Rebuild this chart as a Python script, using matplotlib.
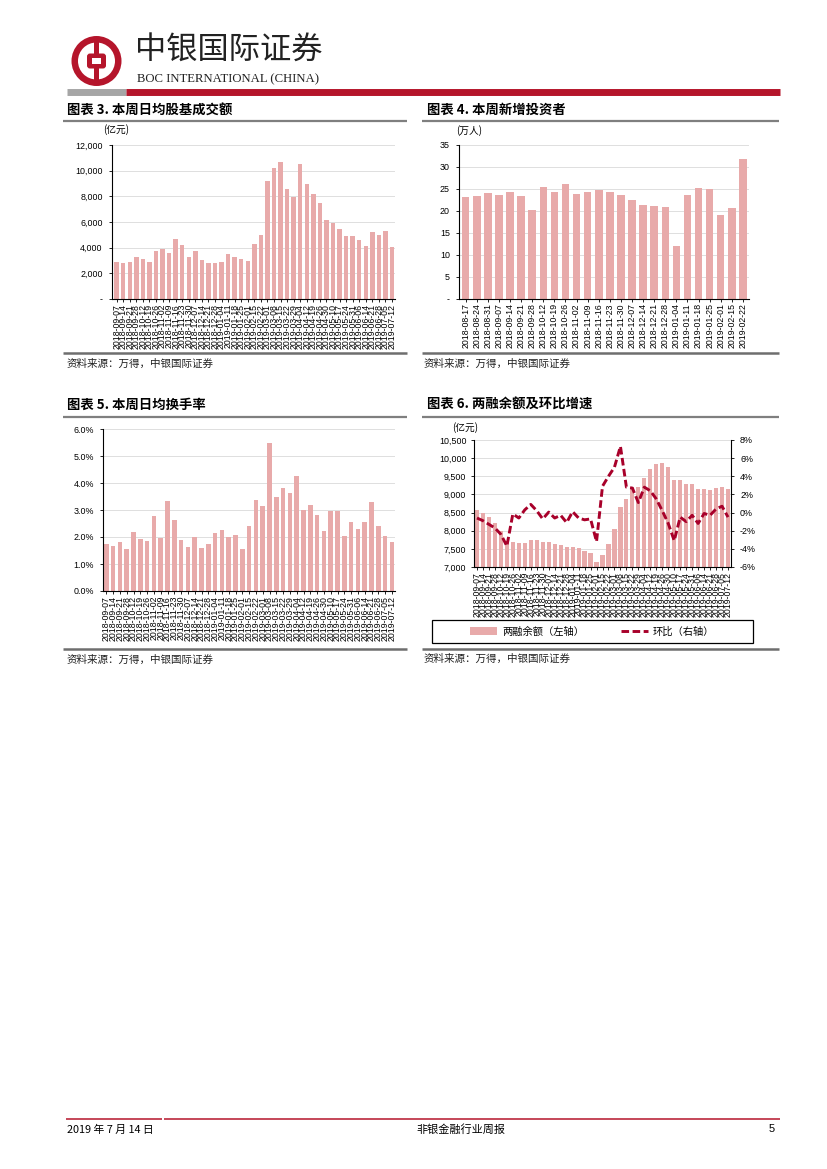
import matplotlib
matplotlib.use("Agg")
import matplotlib.pyplot as plt
import matplotlib.patches as mpatches
from matplotlib.lines import Line2D
from matplotlib.ticker import FuncFormatter, MultipleLocator

W, H = 827, 1169
CJK = ['Noto Sans CJK SC', 'DejaVu Sans']
NUM = ['Liberation Sans', 'DejaVu Sans']
plt.rcParams['font.family'] = CJK

BAR = '#E8AAAA'
LINE = '#A8002A'
RED = '#B5152B'

# ---------------- data ----------------
weeks43 = ['2018-09-07', '2018-09-14', '2018-09-21', '2018-09-28', '2018-10-12', '2018-10-19',
           '2018-10-26', '2018-11-02', '2018-11-09', '2018-11-16', '2018-11-23', '2018-11-30',
           '2018-12-07', '2018-12-14', '2018-12-21', '2018-12-28', '2019-01-04', '2019-01-11',
           '2019-01-18', '2019-01-25', '2019-02-01', '2019-02-15', '2019-02-22', '2019-03-01',
           '2019-03-08', '2019-03-15', '2019-03-22', '2019-03-29', '2019-04-04', '2019-04-12',
           '2019-04-19', '2019-04-26', '2019-04-30', '2019-05-10', '2019-05-17', '2019-05-24',
           '2019-05-31', '2019-06-06', '2019-06-14', '2019-06-21', '2019-06-28', '2019-07-05',
           '2019-07-12']

turnover = [2880, 2830, 2910, 3270, 3090, 2910, 3720, 3870, 3590, 4700, 4180, 3270, 3740, 3040,
            2780, 2830, 2910, 3530, 3270, 3090, 2960, 4300, 4960, 9190, 10200, 10680, 8540,
            7920, 10490, 8960, 8150, 7480, 6130, 5920, 5430, 4880, 4930, 4570, 4150, 5220,
            5010, 5320, 4050]

weeks26 = ['2018-08-17', '2018-08-24', '2018-08-31', '2018-09-07', '2018-09-14', '2018-09-21',
           '2018-09-28', '2018-10-12', '2018-10-19', '2018-10-26', '2018-11-02', '2018-11-09',
           '2018-11-16', '2018-11-23', '2018-11-30', '2018-12-07', '2018-12-14', '2018-12-21',
           '2018-12-28', '2019-01-04', '2019-01-11', '2019-01-18', '2019-01-25', '2019-02-01',
           '2019-02-15', '2019-02-22']
new_investors = [23.0, 23.2, 24.0, 23.6, 24.1, 23.3, 20.1, 25.3, 24.1, 26.0, 23.8, 24.1, 24.6,
                 24.1, 23.5, 22.3, 21.2, 21.0, 20.8, 11.9, 23.6, 25.2, 25.0, 18.9, 20.6, 31.6]

turnover_rate = [1.75, 1.67, 1.83, 1.55, 2.20, 1.93, 1.87, 2.78, 1.97, 3.35, 2.63, 1.90, 1.63,
                 2.00, 1.60, 1.75, 2.13, 2.27, 2.00, 2.07, 1.55, 2.40, 3.38, 3.15, 5.50, 3.47,
                 3.80, 3.63, 4.27, 3.00, 3.18, 2.83, 2.23, 2.95, 2.95, 2.02, 2.55, 2.30, 2.55,
                 3.28, 2.40, 2.05, 1.83]

margin_balance = [8560, 8500, 8390, 8220, 8000, 7720, 7700, 7660, 7670, 7750, 7750, 7700, 7700,
                  7640, 7620, 7560, 7560, 7520, 7450, 7390, 7150, 7330, 7630, 8060, 8640, 8870,
                  9210, 9210, 9460, 9700, 9840, 9860, 9745, 9410, 9395, 9275, 9275, 9150, 9150,
                  9130, 9165, 9210, 9150]
margin_growth = [-0.6, -0.9, -1.3, -1.7, -2.4, -3.7, -0.15, -0.6, 0.3, 0.9, 0.2, -0.7, 0.05,
                 -0.6, -0.3, -1.1, 0.1, -0.6, -0.8, -0.7, -3.2, 2.9, 4.0, 5.0, 7.3, 2.8, 2.7,
                 1.1, 2.8, 2.4, 1.5, 0.2, -1.2, -3.1, -0.5, -1.0, -0.3, -1.2, -0.1, -0.3, 0.4,
                 0.7, -0.5]

# ---------------- helpers ----------------
fig = plt.figure(figsize=(W / 100, H / 100), dpi=100)


def fx(x):
    return x / W


def fy(y):
    return 1 - y / H


def add_ax(x0, y0, x1, y1, **kw):
    return fig.add_axes([fx(x0), fy(y1), fx(x1 - x0), (y1 - y0) / H], **kw)


def hline(x0, x1, y, color, lw):
    fig.add_artist(Line2D([fx(x0), fx(x1)], [fy(y), fy(y)], color=color, lw=lw,
                          solid_capstyle='butt'))


def style_axes(ax):
    for s in ['top', 'right']:
        ax.spines[s].set_visible(False)
    for s in ['left', 'bottom']:
        ax.spines[s].set_color('black')
        ax.spines[s].set_linewidth(0.8)
    ax.yaxis.grid(True, color='#D9D9D9', linewidth=0.6)
    ax.set_axisbelow(True)
    ax.tick_params(axis='y', length=2.5, width=0.6, pad=4, labelsize=6.4)
    ax.tick_params(axis='x', length=2, width=0.6, pad=1.5, labelsize=6.3)
    for lab in ax.get_yticklabels():
        lab.set_fontfamily(NUM)


def date_labels(ax, labels):
    ax.set_xticks(range(len(labels)))
    ax.set_xticklabels(labels, rotation=90, fontsize=6.3, family=NUM)


def title(x, y, text, lx0, lx1, ly):
    fig.text(fx(x), fy(y), text, fontsize=9.6, fontweight='bold', va='center', ha='left',
             family=CJK)
    hline(lx0, lx1, ly, '#7F7F7F', 1.6)


def source(x, y, lx0, lx1, ly):
    hline(lx0, lx1, ly, '#6E6E6E', 1.8)
    fig.text(fx(x), fy(y), '资料来源：万得，中银国际证券', fontsize=7.6, va='center', ha='left',
             family=CJK, color='#222222', style='italic')


# ---------------- header ----------------
lax = add_ax(70, 35, 123, 87)
lax.set_xlim(-26.5, 26.5)
lax.set_ylim(-26, 26)
lax.set_aspect('equal')
lax.axis('off')
lax.add_patch(mpatches.Circle((0, 0), 25, color=RED, lw=0))
lax.add_patch(mpatches.Circle((0, 0), 18.5, color='white', lw=0))
lax.add_patch(mpatches.Rectangle((-2.6, -20), 5.2, 40, color=RED, lw=0))
lax.add_patch(mpatches.FancyBboxPatch((-9.5, -7.5), 19, 15, boxstyle='round,pad=0,rounding_size=3',
                                      color=RED, lw=0))
lax.add_patch(mpatches.Rectangle((-4.5, -3), 9, 6, color='white', lw=0))

fig.text(fx(135), fy(51), '中银国际证券', fontsize=22.5, va='center', ha='left', family=CJK,
         color='#222222')
fig.text(fx(137), fy(79), 'BOC INTERNATIONAL (CHINA)', fontsize=9.2, va='center', ha='left',
         family=['Liberation Serif', 'DejaVu Serif'], color='#222222')
hline(67, 126, 91.8, '#A6A6A6', 5)
hline(126, 780, 91.8, RED, 5)

# ---------------- chart 3 ----------------
title(67, 110, '图表 3. 本周日均股基成交额', 63, 407, 120.7)
ax3 = add_ax(111.7, 145, 395, 299)
x3 = list(range(len(turnover)))
ax3.bar(x3, turnover, width=0.68, color=BAR, zorder=2)
ax3.set_ylim(0, 12000)
ax3.set_yticks(range(0, 12001, 2000))
ax3.yaxis.set_major_formatter(FuncFormatter(lambda v, p: '-' if v == 0 else f'{v:,.0f}'))
ax3.set_xlim(-0.75, len(turnover) - 0.55)
style_axes(ax3)
date_labels(ax3, weeks43)
fig.text(fx(103), fy(130), '(亿元)', fontsize=7, va='center', ha='left', family=CJK)
source(67, 364, 63, 407, 353.3)

# ---------------- chart 4 ----------------
title(427, 110, '图表 4. 本周新增投资者', 422, 779, 120.7)
ax4 = add_ax(459, 144.5, 749, 298.5)
x4 = list(range(len(new_investors)))
ax4.bar(x4, new_investors, width=0.68, color=BAR, zorder=2)
ax4.set_ylim(0, 35)
ax4.set_yticks(range(0, 36, 5))
ax4.yaxis.set_major_formatter(FuncFormatter(lambda v, p: '-' if v == 0 else f'{v:.0f}'))
ax4.set_xlim(-0.6, len(new_investors) - 0.45)
style_axes(ax4)
date_labels(ax4, weeks26)
fig.text(fx(456), fy(131), '(万人)', fontsize=7, va='center', ha='left', family=CJK)
source(424, 364, 422, 779, 353.3)

# ---------------- chart 5 ----------------
title(67, 405, '图表 5. 本周日均换手率', 63, 407, 417.3)
ax5 = add_ax(103.3, 429, 395, 591)
x5 = list(range(len(turnover_rate)))
ax5.bar(x5, turnover_rate, width=0.68, color=BAR, zorder=2)
ax5.set_ylim(0, 6)
ax5.set_yticks([0, 1, 2, 3, 4, 5, 6])
ax5.yaxis.set_major_formatter(FuncFormatter(lambda v, p: f'{v:.1f}%'))
ax5.set_xlim(-0.45, len(turnover_rate) - 0.55)
style_axes(ax5)
date_labels(ax5, weeks43)
source(67, 659.5, 63, 407, 649.3)

# ---------------- chart 6 ----------------
title(427, 405, '图表 6. 两融余额及环比增速', 422, 779, 416.5)
ax6 = add_ax(474, 440, 731, 567)
x6 = list(range(len(margin_balance)))
bars6 = ax6.bar(x6, margin_balance, width=0.7, color=BAR, zorder=2, label='两融余额（左轴）')
ax6.set_ylim(7000, 10500)
ax6.set_yticks(range(7000, 10501, 500))
ax6.yaxis.set_major_formatter(FuncFormatter(lambda v, p: f'{v:,.0f}'))
ax6.set_xlim(-0.5, len(margin_balance) - 0.5)
style_axes(ax6)
date_labels(ax6, weeks43)
ax6.tick_params(axis='y', pad=3)

ax6r = ax6.twinx()
ln6, = ax6r.plot(x6, margin_growth, color=LINE, lw=2.1, ls=(0, (2.6, 1.2)),
                 label='环比（右轴）', zorder=3)
ax6r.set_ylim(-6, 8)
ax6r.set_yticks(range(-6, 9, 2))
ax6r.yaxis.set_major_formatter(FuncFormatter(lambda v, p: f'{v:.0f}%'))
for s in ['top', 'left', 'bottom']:
    ax6r.spines[s].set_visible(False)
ax6r.spines['right'].set_color('black')
ax6r.spines['right'].set_linewidth(0.8)
ax6r.tick_params(axis='y', length=2.5, width=0.6, pad=4, labelsize=6.4)
for lab in ax6r.get_yticklabels():
    lab.set_fontfamily(NUM)
ax6r.set_xlim(-0.5, len(margin_balance) - 0.5)
fig.text(fx(452), fy(428), '(亿元)', fontsize=7, va='center', ha='left', family=CJK)

# legend box
fig.add_artist(mpatches.Rectangle((fx(432), fy(643)), fx(321), 23 / H, fill=False,
                                  edgecolor='black', lw=0.9))
fig.legend([bars6, ln6], ['两融余额（左轴）', '环比（右轴）'], loc='center',
           bbox_to_anchor=(fx(592.5), fy(631.5)), ncol=2, frameon=False,
           fontsize=7.4, handlelength=2.6, handleheight=0.7, columnspacing=3.6,
           handletextpad=0.5, prop={'family': CJK, 'size': 7.4})
source(424, 658.5, 422, 779, 649.3)

# ---------------- footer ----------------
hline(66, 162, 1118.5, RED, 1.1)
hline(163.5, 780, 1118.5, RED, 1.1)
fig.text(fx(67), fy(1129.5), '2019 年 7 月 14 日', fontsize=7.8, va='center', ha='left',
         family=CJK)
fig.text(fx(461), fy(1129.5), '非银金融行业周报', fontsize=8, va='center', ha='center',
         family=CJK)
fig.text(fx(775), fy(1129.5), '5', fontsize=8, va='center', ha='right', family=NUM)

fig.savefig('out.png', dpi=100)
